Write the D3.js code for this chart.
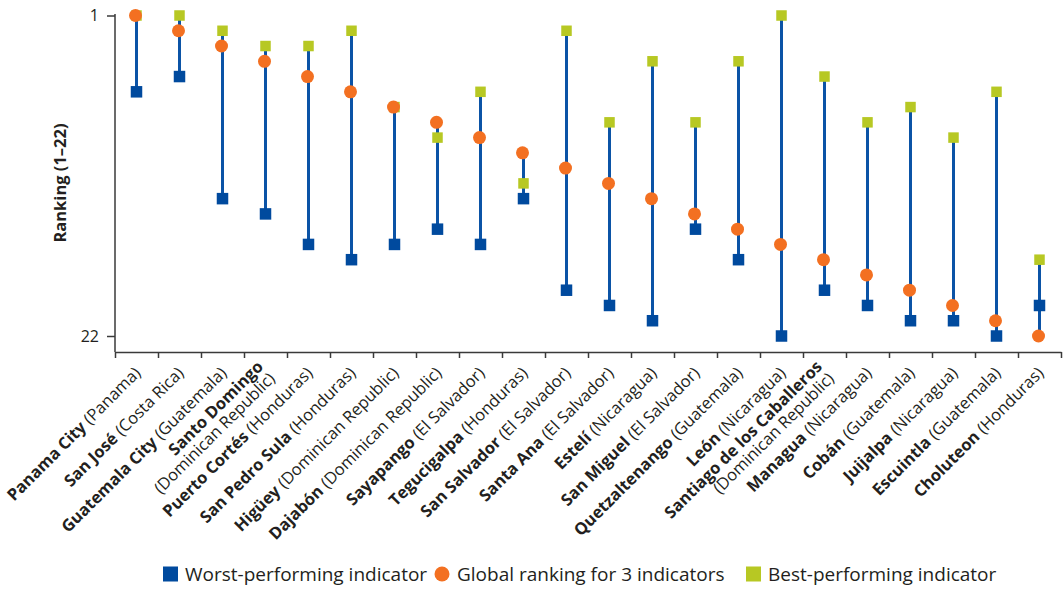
<!DOCTYPE html>
<html>
<head>
<meta charset="utf-8">
<script src="https://cdn.jsdelivr.net/npm/d3@7"></script>
<style>
  html, body { margin: 0; padding: 0; background: #fff; }
  svg { display: block; font-family: "Open Sans", "Noto Sans", sans-serif; }
</style>
</head>
<body>
<svg id="chart" width="1064" height="590"></svg>
<script>
const cities = ["Panama City","San José","Guatemala City","Santo Domingo","Puerto Cortés","San Pedro Sula","Higüey","Dajabón","Sayapango","Tegucigalpa","San Salvador","Santa Ana","Estelí","San Miguel","Quetzaltenango","León","Santiago de los Caballeros","Managua","Cobán","Juijalpa","Escuintla","Choluteon"];
const countries = ["Panama","Costa Rica","Guatemala","Dominican Republic","Honduras","Honduras","Dominican Republic","Dominican Republic","El Salvador","Honduras","El Salvador","El Salvador","Nicaragua","El Salvador","Guatemala","Nicaragua","Dominican Republic","Nicaragua","Guatemala","Nicaragua","Guatemala","Honduras"];
const worstRank  = [6,5,13,14,16,17,16,15,16,13,19,20,21,15,17,22,19,20,21,21,22,20];
const globalRank = [1,2,3,4,5,6,7,8,9,10,11,12,13,14,15,16,17,18,19,20,21,22];
const bestRank   = [1,1,2,3,3,2,7,9,6,12,2,8,4,8,4,1,5,8,7,9,6,17];
const yTicks = [1, 22];
const wrappedLabels = ["Santo Domingo","Santiago de los Caballeros"];
const legendLabels = ["Worst-performing indicator","Global ranking for 3 indicators","Best-performing indicator"];

(function () {
const colWorst = "#004a9e", colGlobal = "#f37021", colBest = "#b7c823", colLine = "#0b53a6", colAxis = "#3a3a3a", colText = "#231f20";

const svg = d3.select("#chart");
const mLeft = 115, mRight = 1061, mBottom = 352;

const x = d3.scaleBand().domain(cities).range([mLeft, mRight]).paddingInner(0).paddingOuter(0);
const xIdx = d3.scaleLinear().domain([0, cities.length]).range([mLeft, mRight]);
const y = d3.scaleLinear().domain([1, 22]).range([15.5, 336]);

const rows = cities.map((c, i) => ({ city: c, country: countries[i], worst: worstRank[i], global: globalRank[i], best: bestRank[i] }));

// x axis
const gx = svg.append("g").attr("transform", `translate(0,${mBottom})`)
  .call(d3.axisBottom(xIdx).tickValues(d3.range(cities.length + 1)).tickFormat("").tickSize(6).tickSizeOuter(0));
gx.select(".domain").attr("stroke", colAxis).attr("stroke-width", 1.5);
gx.selectAll(".tick line").attr("stroke", colAxis).attr("stroke-width", 1.5);

// y axis
const gy = svg.append("g").attr("transform", `translate(${mLeft},0)`)
  .call(d3.axisLeft(y).tickValues(yTicks).tickFormat(d3.format("d")).tickSize(8).tickPadding(8).tickSizeOuter(0));
gy.select(".domain").attr("d", `M0,${y(1) - 1.5}V${mBottom}`).attr("stroke", colAxis).attr("stroke-width", 1.5);
gy.selectAll(".tick line").attr("stroke", colAxis).attr("stroke-width", 1.5);
gy.selectAll(".tick text").attr("font-size", 16).attr("fill", colText).attr("font-family", "Open Sans");

// y title
svg.append("text")
  .attr("transform", `translate(60,183) rotate(-90)`)
  .attr("text-anchor", "middle")
  .attr("dy", "0.35em")
  .attr("font-size", 16.5).attr("font-weight", 700).attr("fill", colText)
  .text("Ranking (1–22)");

// x labels
const labG = svg.append("g");
rows.forEach(r => {
  const cx = x(r.city) + x.bandwidth() / 2;
  const t = labG.append("text")
    .attr("transform", `translate(${cx + 1},${mBottom + 18}) rotate(-45)`)
    .attr("text-anchor", "end")
    .attr("font-size", 16.5).attr("fill", colText);
  if (wrappedLabels.includes(r.city)) {
    t.append("tspan").attr("x", 0).attr("dy", "-0.2em").attr("font-weight", 700).text(r.city);
    t.append("tspan").attr("x", 0).attr("dy", "1.02em").text(`(${r.country})`);
  } else {
    t.append("tspan").attr("dy", "0.35em").attr("font-weight", 700).text(r.city + " ");
    t.append("tspan").text(`(${r.country})`);
  }
});

// range lines
const marks = svg.append("g");
marks.selectAll("line.range").data(rows).join("line")
  .attr("class", "range")
  .attr("x1", d => x(d.city) + x.bandwidth() / 2)
  .attr("x2", d => x(d.city) + x.bandwidth() / 2)
  .attr("y1", d => y(Math.min(d.worst, d.global, d.best)))
  .attr("y2", d => y(Math.max(d.worst, d.global, d.best)))
  .attr("stroke", colLine).attr("stroke-width", 3);

const sBest = 10.5, sWorst = 11.5;
marks.selectAll("rect.best").data(rows).join("rect")
  .attr("class", "best")
  .attr("x", d => x(d.city) + x.bandwidth() / 2 - sBest / 2)
  .attr("y", d => y(d.best) - sBest / 2)
  .attr("width", sBest).attr("height", sBest)
  .attr("fill", colBest);
marks.selectAll("rect.worst").data(rows).join("rect")
  .attr("class", "worst")
  .attr("x", d => x(d.city) + x.bandwidth() / 2 - sWorst / 2)
  .attr("y", d => y(d.worst) - sWorst / 2)
  .attr("width", sWorst).attr("height", sWorst)
  .attr("fill", colWorst);
marks.selectAll("circle.global").data(rows).join("circle")
  .attr("class", "global")
  .attr("cx", d => x(d.city) + x.bandwidth() / 2 - 1)
  .attr("cy", d => y(d.global))
  .attr("r", 6.5)
  .attr("fill", colGlobal);

// legend
const leg = svg.append("g").attr("font-size", 19).attr("fill", colText);
const legX = [163, 435, 746];
const legY = 574;
leg.append("rect").attr("x", legX[0]).attr("y", legY - 7.5).attr("width", 15).attr("height", 15).attr("fill", colWorst);
leg.append("text").attr("x", legX[0] + 22).attr("y", legY).attr("dy", "0.35em").text(legendLabels[0]);
leg.append("circle").attr("cx", legX[1] + 7).attr("cy", legY).attr("r", 7.5).attr("fill", colGlobal);
leg.append("text").attr("x", legX[1] + 22).attr("y", legY).attr("dy", "0.35em").text(legendLabels[1]);
leg.append("rect").attr("x", legX[2]).attr("y", legY - 7.5).attr("width", 15).attr("height", 15).attr("fill", colBest);
leg.append("text").attr("x", legX[2] + 22).attr("y", legY).attr("dy", "0.35em").text(legendLabels[2]);
})();
</script>
</body>
</html>
